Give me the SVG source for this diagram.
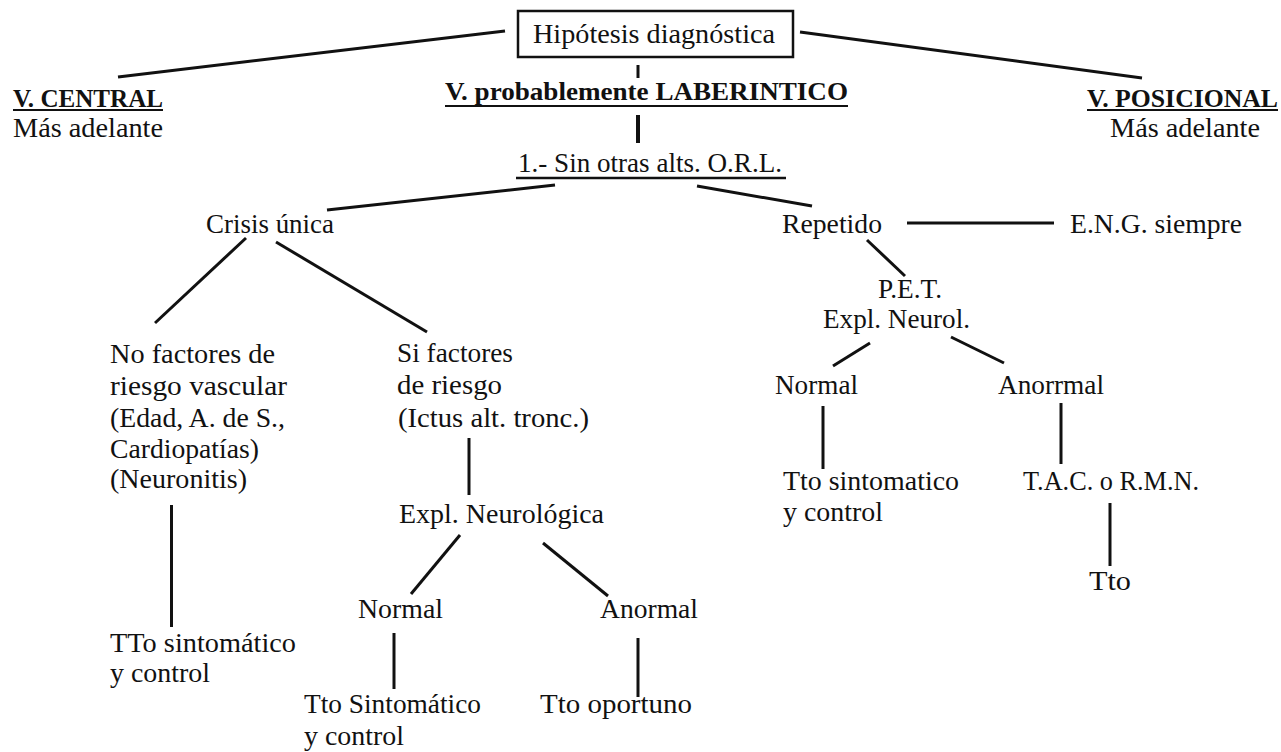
<svg xmlns="http://www.w3.org/2000/svg" width="1281" height="752" viewBox="0 0 1281 752">
<style>
text{font-family:"Liberation Serif","Times New Roman",serif;font-size:27px;fill:#111}
.b{font-weight:bold;font-size:26px}
.c{stroke:#111;stroke-width:3;fill:none;stroke-linecap:butt}
.u{stroke:#111;stroke-width:2;fill:none}
</style>
<rect width="1281" height="752" fill="#fff"/>
<g id="connectors">
<line class="c" x1="505" y1="31" x2="118" y2="77"/>
<line class="c" x1="800" y1="32" x2="1142" y2="78"/>
<line class="c" x1="638" y1="65" x2="638" y2="78"/>
<line class="c" x1="638" y1="115" x2="638" y2="143" style="stroke-width:4"/>
<line class="c" x1="555" y1="185" x2="327" y2="210"/>
<line class="c" x1="697" y1="186" x2="812" y2="206"/>
<line class="c" x1="246" y1="238" x2="155" y2="323"/>
<line class="c" x1="276" y1="242" x2="427" y2="332"/>
<line class="c" x1="907" y1="223" x2="1054" y2="223"/>
<line class="c" x1="867" y1="240" x2="905" y2="276"/>
<line class="c" x1="870" y1="343" x2="833" y2="366"/>
<line class="c" x1="951" y1="337" x2="1004" y2="363"/>
<line class="c" x1="823" y1="406" x2="823" y2="469"/>
<line class="c" x1="1061" y1="403" x2="1061" y2="464"/>
<line class="c" x1="1110" y1="503" x2="1110" y2="566"/>
<line class="c" x1="171.5" y1="505" x2="171.5" y2="627"/>
<line class="c" x1="469" y1="438" x2="469" y2="495"/>
<line class="c" x1="460" y1="535" x2="411" y2="594"/>
<line class="c" x1="543" y1="543" x2="608" y2="596"/>
<line class="c" x1="394" y1="633" x2="394" y2="689"/>
<line class="c" x1="638" y1="638" x2="638" y2="697"/>
</g>
<g id="hipotesis">
<rect x="518" y="11" width="275" height="46" fill="none" stroke="#111" stroke-width="2.5"/>
<text x="533" y="43" textLength="242" lengthAdjust="spacingAndGlyphs">Hipótesis diagnóstica</text>
</g>
<g id="central">
<text class="b" x="13" y="107" textLength="150" lengthAdjust="spacingAndGlyphs">V. CENTRAL</text>
<line class="u" x1="13" y1="110" x2="163" y2="110"/>
<text x="13" y="137" textLength="150" lengthAdjust="spacingAndGlyphs">Más adelante</text>
</g>
<g id="laberintico">
<text class="b" x="445" y="100" textLength="403" lengthAdjust="spacingAndGlyphs">V. probablemente LABERINTICO</text>
<line class="u" x1="445" y1="106" x2="848" y2="106"/>
</g>
<g id="posicional">
<text class="b" x="1087" y="107" textLength="191" lengthAdjust="spacingAndGlyphs">V. POSICIONAL</text>
<line class="u" x1="1087" y1="110" x2="1278" y2="110"/>
<text x="1110" y="137" textLength="150" lengthAdjust="spacingAndGlyphs">Más adelante</text>
</g>
<g id="sin-otras">
<text x="518" y="172" textLength="264" lengthAdjust="spacingAndGlyphs">1.- Sin otras alts. O.R.L.</text>
<line class="u" x1="516" y1="178" x2="786" y2="178" style="stroke-width:2.5"/>
</g>
<g id="crisis">
<text x="206" y="233" textLength="128" lengthAdjust="spacingAndGlyphs">Crisis única</text>
</g>
<g id="repetido">
<text x="782" y="233" textLength="100" lengthAdjust="spacingAndGlyphs">Repetido</text>
</g>
<g id="eng">
<text x="1070" y="233" textLength="172" lengthAdjust="spacingAndGlyphs">E.N.G. siempre</text>
</g>
<g id="pet">
<text x="878" y="298" textLength="64" lengthAdjust="spacingAndGlyphs">P.E.T.</text>
<text x="823" y="328" textLength="147" lengthAdjust="spacingAndGlyphs">Expl. Neurol.</text>
</g>
<g id="normal-r">
<text x="775" y="394" textLength="83" lengthAdjust="spacingAndGlyphs">Normal</text>
</g>
<g id="anorrmal">
<text x="998" y="394" textLength="106" lengthAdjust="spacingAndGlyphs">Anorrmal</text>
</g>
<g id="tto-sint-r">
<text x="783" y="490" textLength="176" lengthAdjust="spacingAndGlyphs">Tto sintomatico</text>
<text x="783" y="521" textLength="100" lengthAdjust="spacingAndGlyphs">y control</text>
</g>
<g id="tac">
<text x="1023" y="490" textLength="176" lengthAdjust="spacingAndGlyphs">T.A.C. o R.M.N.</text>
</g>
<g id="tto-r">
<text x="1089" y="590" textLength="42" lengthAdjust="spacingAndGlyphs">Tto</text>
</g>
<g id="no-factores">
<text x="110" y="363" textLength="165" lengthAdjust="spacingAndGlyphs">No factores de</text>
<text x="110" y="395" textLength="177" lengthAdjust="spacingAndGlyphs">riesgo vascular</text>
<text x="110" y="427" textLength="175" lengthAdjust="spacingAndGlyphs">(Edad, A. de S.,</text>
<text x="110" y="458" textLength="149" lengthAdjust="spacingAndGlyphs">Cardiopatías)</text>
<text x="110" y="488" textLength="137" lengthAdjust="spacingAndGlyphs">(Neuronitis)</text>
</g>
<g id="si-factores">
<text x="397" y="362" textLength="116" lengthAdjust="spacingAndGlyphs">Si factores</text>
<text x="397" y="394" textLength="105" lengthAdjust="spacingAndGlyphs">de riesgo</text>
<text x="398" y="427" textLength="191" lengthAdjust="spacingAndGlyphs">(Ictus alt. tronc.)</text>
</g>
<g id="expl-neuro">
<text x="399" y="523" textLength="205" lengthAdjust="spacingAndGlyphs">Expl. Neurológica</text>
</g>
<g id="normal-l">
<text x="358" y="618" textLength="85" lengthAdjust="spacingAndGlyphs">Normal</text>
</g>
<g id="anormal-l">
<text x="600" y="618" textLength="98" lengthAdjust="spacingAndGlyphs">Anormal</text>
</g>
<g id="tto-sint-l">
<text x="110" y="652" textLength="186" lengthAdjust="spacingAndGlyphs">TTo sintomático</text>
<text x="110" y="682" textLength="100" lengthAdjust="spacingAndGlyphs">y control</text>
</g>
<g id="tto-sint-c">
<text x="304" y="713" textLength="177" lengthAdjust="spacingAndGlyphs">Tto Sintomático</text>
<text x="304" y="745" textLength="100" lengthAdjust="spacingAndGlyphs">y control</text>
</g>
<g id="tto-oportuno">
<text x="540" y="713" textLength="152" lengthAdjust="spacingAndGlyphs">Tto oportuno</text>
</g>
</svg>
